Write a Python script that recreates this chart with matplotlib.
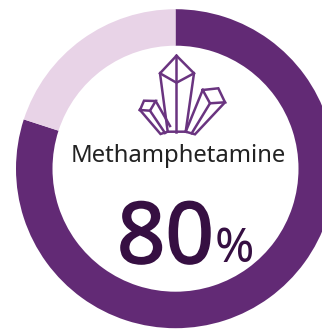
#!/usr/bin/python3
import matplotlib
matplotlib.use("Agg")
import matplotlib.pyplot as plt
import matplotlib.patheffects as pe

W, H = 322, 329

labels = ["Methamphetamine", "Other"]
shares = [80, 20]
value_text = "80"
unit_text = "%"
colors = ["#622A75", "#E8D3E7"]

# crystal outline, pixel coordinates, y down
crystal_lines = [
    [(176.5, 55.7), (160, 73.3), (167.7, 131.7), (185.7, 131.7), (194, 73.3), (176.5, 55.7)],
    [(160, 73.3), (176.5, 82.7), (194, 73.3)],
    [(176.5, 55.7), (176.5, 131.7)],
    [(140, 110), (144, 100.7), (155.7, 101), (150, 110.7), (140, 110)],
    [(140, 110), (160.5, 134), (167.7, 131.7)],
    [(150, 110.7), (165, 133)],
    [(155.7, 101), (170, 126)],
    [(202.7, 90), (218.3, 88.3), (225, 102.3), (210, 103.3), (202.7, 90)],
    [(202.7, 90), (185.7, 131.7)],
    [(210, 103.3), (191.7, 133.3)],
    [(225, 102.3), (195, 134.3), (185.7, 131.7)],
]

fig = plt.figure(figsize=(W / 100, H / 100), dpi=100)

ax = fig.add_axes([0, 0, 1, 1])
ax.pie(shares, colors=colors, startangle=90, counterclock=False, frame=True,
       center=(175.5, H - 168.7), radius=159.5,
       wedgeprops=dict(width=36.5, linewidth=0))
ax.set_xlim(0, W)
ax.set_ylim(0, H)
ax.axis("off")

top = fig.add_axes([0, 0, 1, 1])
top.set_xlim(0, W)
top.set_ylim(H, 0)
top.axis("off")

for line in crystal_lines:
    xs = [p[0] for p in line]
    ys = [p[1] for p in line]
    top.plot(xs, ys, color="#6A3480", lw=1.8, solid_joinstyle="miter")

top.text(178, 162.5, labels[0], family="Noto Sans", fontsize=17.2,
         color="#222222", ha="center", va="baseline")
big = top.text(117, 263, value_text, family="Noto Sans", fontsize=61, color="#360F42",
               ha="left", va="baseline")
big.set_path_effects([pe.withStroke(linewidth=1.4, foreground="#360F42")])
top.text(215, 261.5, unit_text, family="Noto Sans", fontsize=34, color="#360F42",
         ha="left", va="baseline")

fig.savefig("out.png", dpi=100)
